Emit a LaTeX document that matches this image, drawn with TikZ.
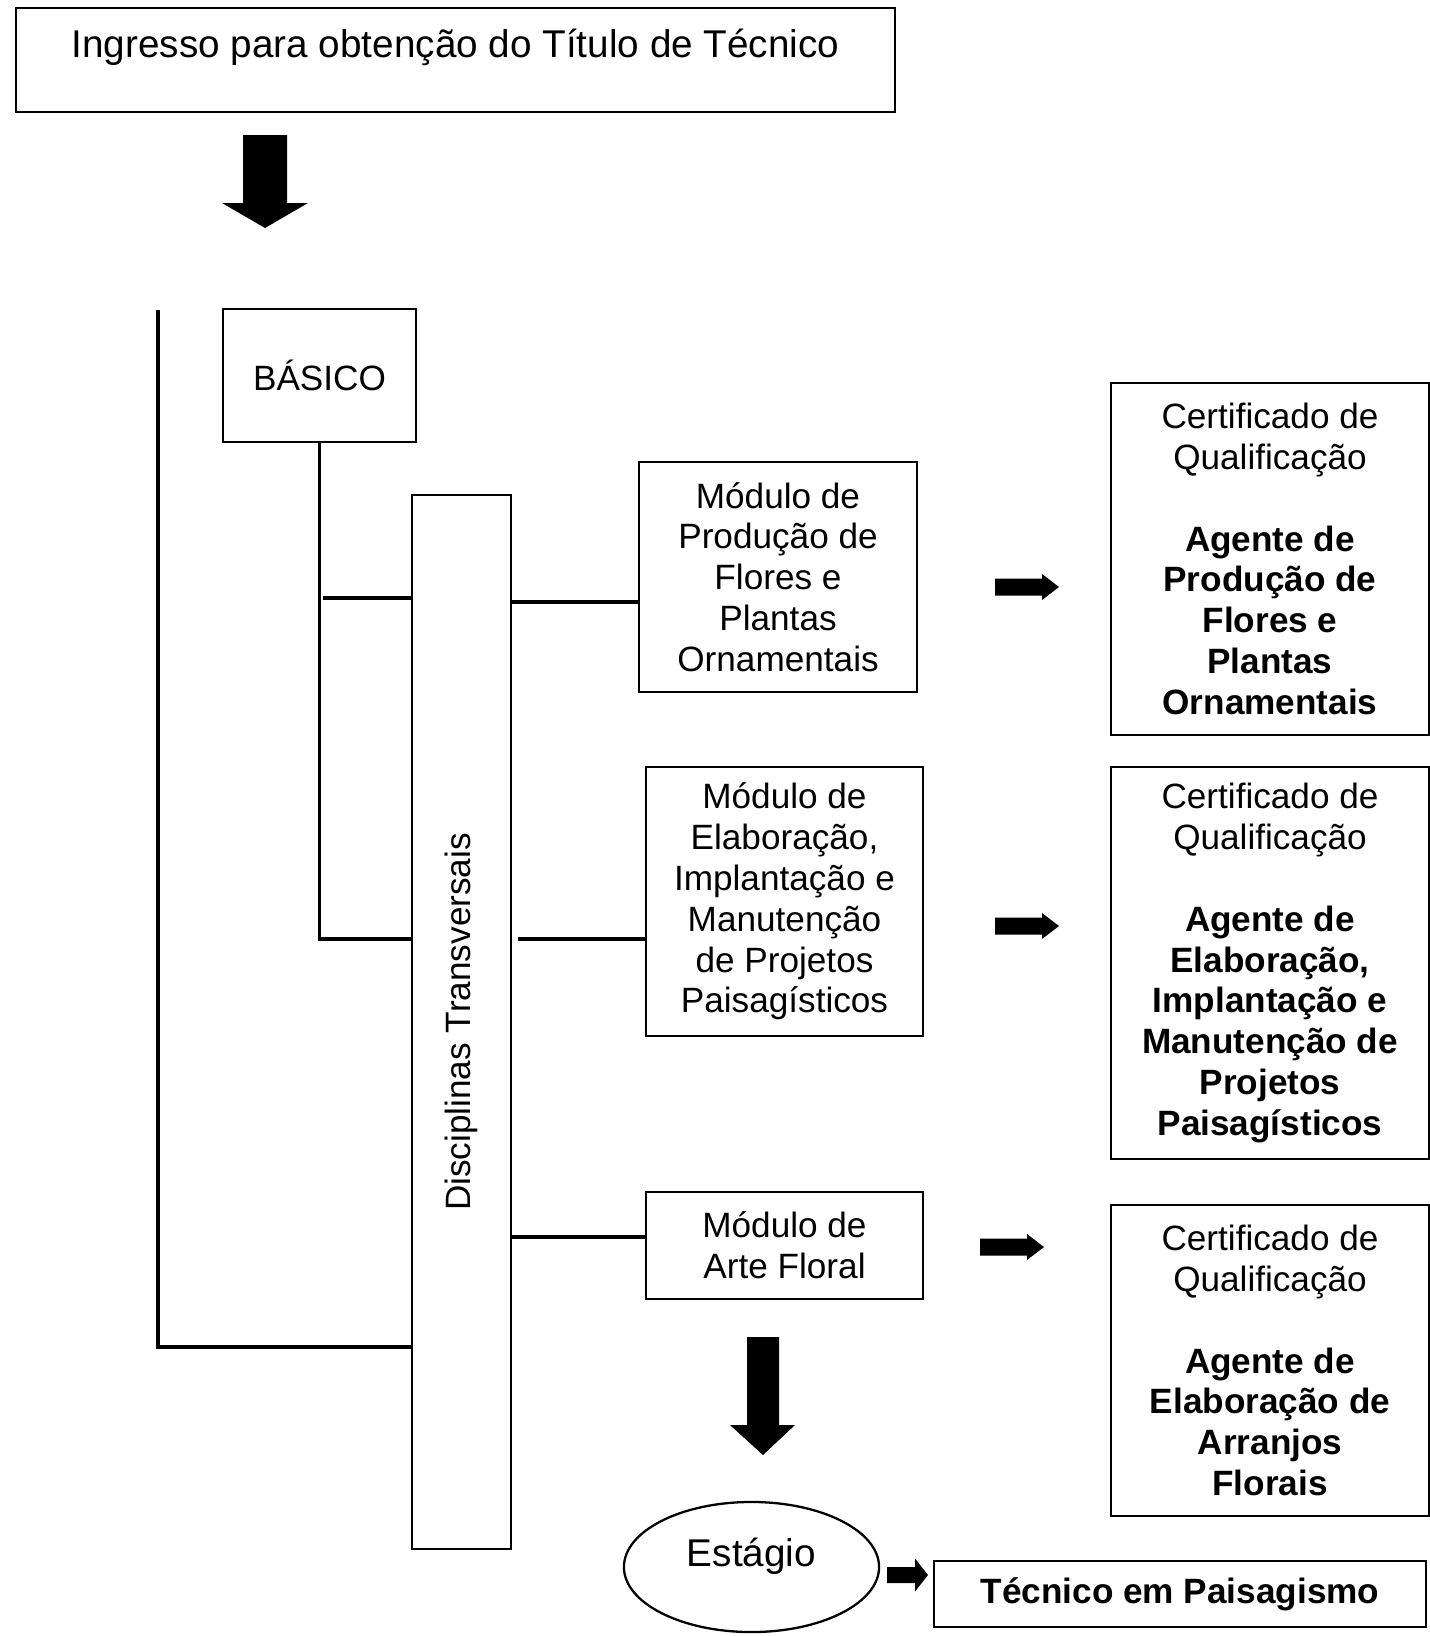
\documentclass[tikz,border=0pt]{standalone}
\usepackage{fontspec}
\setmainfont{Liberation Sans}
\usetikzlibrary{shapes.geometric}
\tikzset{
  box/.style={draw, line width=0.65pt, inner sep=0pt, align=center,
    font=\fontsize{10}{11.6}\selectfont},
  bigtext/.style={font=\fontsize{11}{12.8}\selectfont},
  link/.style={line width=0.95pt},
  blockarrow/.style={fill=black},
}
\begin{document}
\begin{tikzpicture}[x=0.01cm, y=-0.01cm]
    \useasboundingbox (0,0) rectangle (1430,1636);
    % boxes
    \node[box, bigtext, minimum width=8.79cm, minimum height=1.04cm, text height=0.275cm, text depth=0.33cm] (title) at (455.5,60) {Ingresso para obtenção do Título de Técnico};
    \node[box, minimum width=1.93cm, minimum height=1.33cm] (basico) at (319.5,375.5) {BÁSICO};
    \node[box, minimum width=0.99cm, minimum height=10.54cm] (disc) at (461.5,1022) {\rotatebox{90}{Disciplinas Transversais}};
    \node[box, minimum width=2.78cm, minimum height=2.30cm] (mod1) at (778,577) {Módulo de\\Produção de\\Flores e\\Plantas\\Ornamentais};
    \node[box, minimum width=2.77cm, minimum height=2.69cm] (mod2) at (784.5,901.5) {Módulo de\\Elaboração,\\Implantação e\\Manutenção\\de Projetos\\Paisagísticos};
    \node[box, minimum width=2.77cm, minimum height=1.07cm] (mod3) at (784.5,1245.5) {Módulo de\\Arte Floral};
    \node[box, minimum width=3.18cm, minimum height=3.52cm] (cert1) at (1270,559) {Certificado de\\Qualificação\\[11.6pt]\textbf{Agente de}\\\textbf{Produção de}\\\textbf{Flores e}\\\textbf{Plantas}\\\textbf{Ornamentais}};
    \node[box, minimum width=3.18cm, minimum height=3.92cm] (cert2) at (1270,963) {Certificado de\\Qualificação\\[11.6pt]\textbf{Agente de}\\\textbf{Elaboração,}\\\textbf{Implantação e}\\\textbf{Manutenção de}\\\textbf{Projetos}\\\textbf{Paisagísticos}};
    \node[box, minimum width=3.18cm, minimum height=3.11cm] (cert3) at (1270,1360.5) {Certificado de\\Qualificação\\[11.6pt]\textbf{Agente de}\\\textbf{Elaboração de}\\\textbf{Arranjos}\\\textbf{Florais}};
    \node[box, bigtext, ellipse, minimum width=2.55cm, minimum height=1.30cm, text height=0.27cm, text depth=0.29cm] (estagio) at (751.5,1567) {Estágio};
    \node[box, minimum width=4.92cm, minimum height=0.66cm] (tecnico) at (1180,1594) {\textbf{Técnico em Paisagismo}};
    % connecting lines
    \coordinate (ltop) at (158,310);
    \coordinate (lbot) at (158,1347);
    \coordinate (bjoin) at (basico.south |- 0,939);
    \draw[link] (ltop) -- (lbot) -- (lbot -| disc.west);
    \draw[link] (basico.south) -- (bjoin) -- (bjoin -| disc.west);
    \draw[link] (323,598) -- (disc.west |- 0,598);
    \draw[link] (disc.east |- 0,602) -- (mod1.west |- 0,602);
    \draw[link] (518,939) -- (mod2.west |- 0,939);
    \draw[link] (disc.east |- 0,1237) -- (mod3.west |- 0,1237);
    % block arrows
    \fill[blockarrow] (243,135) -- (287,135) -- (287,203) -- (308,203) -- (265,228) -- (222,203) -- (243,203) -- cycle;
    \fill[blockarrow] (747,1337) -- (779,1337) -- (779,1425) -- (795,1425) -- (763,1455) -- (730,1425) -- (747,1425) -- cycle;
    \foreach \xa/\ya in {995/587, 995/926, 980/1247}
      \fill[blockarrow] (\xa,\ya-8.5) -- (\xa+47,\ya-8.5) -- (\xa+47,\ya-13) -- (\xa+64,\ya)
        -- (\xa+47,\ya+13) -- (\xa+47,\ya+8.5) -- (\xa,\ya+8.5) -- cycle;
    \fill[blockarrow] (887,1567) -- (915,1567) -- (915,1558.5) -- (928,1575) -- (915,1591.5) -- (915,1583) -- (887,1583) -- cycle;
\end{tikzpicture}
\end{document}
